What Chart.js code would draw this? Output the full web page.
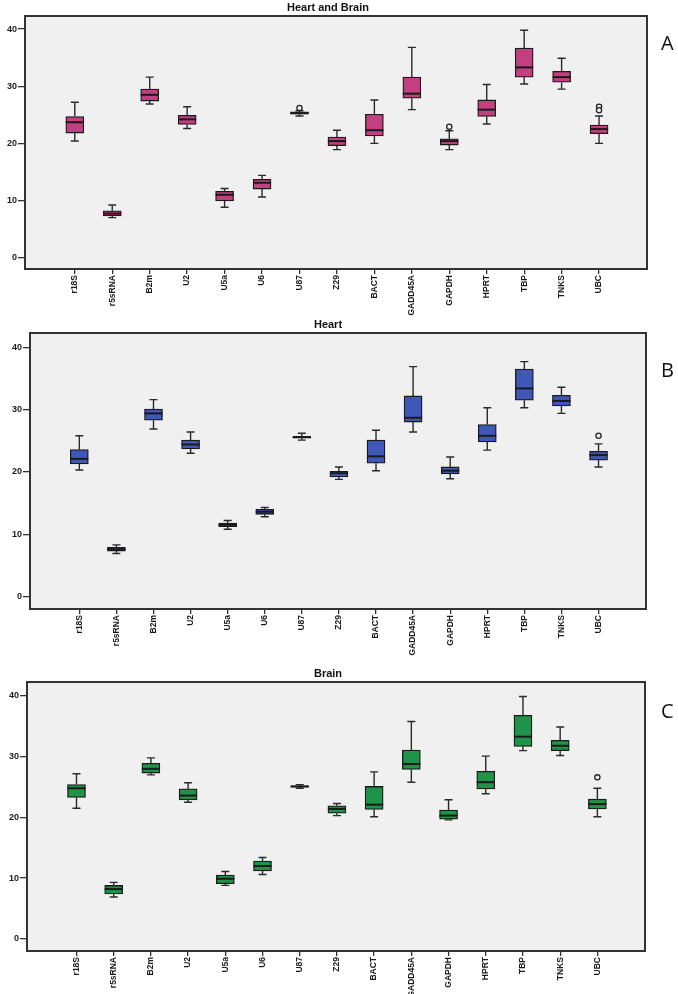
<!DOCTYPE html>
<html>
<head>
<meta charset="utf-8">
<script src="https://cdn.jsdelivr.net/npm/chart.js@4.4.0/dist/chart.umd.min.js"></script>
<style>
  body { margin: 0; background: #fff; width: 678px; height: 994px; position: relative; overflow: hidden; }
  .panel { position: absolute; left: 0; width: 678px; }
  .letter { position: absolute; left: 661px; font-family: "Open Sans", "Liberation Sans", sans-serif; font-size: 20px; color: #111; }
</style>
</head>
<body>
<div class="panel" style="top:0;height:320px"><canvas id="chartA"></canvas></div>
<div class="panel" style="top:317px;height:340px"><canvas id="chartB"></canvas></div>
<div class="panel" style="top:666px;height:328px"><canvas id="chartC"></canvas></div>
<div class="letter" style="top:29px">A</div>
<div class="letter" style="top:356px">B</div>
<div class="letter" style="top:697px">C</div>
<script>
var genes = ["r18S", "r5sRNA", "B2m", "U2", "U5a", "U6", "U87", "Z29", "BACT", "GADD45A", "GAPDH", "HPRT", "TBP", "TNKS", "UBC"];
var yTicks = [0, 10, 20, 30, 40];

// A - Heart and Brain
var aMin = [20.4, 7.0, 26.9, 22.6, 8.8, 10.6, 24.8, 18.9, 20.0, 25.9, 18.9, 23.4, 30.4, 29.5, 20.0];
var aQ1  = [21.8, 7.3, 27.4, 23.3, 9.9, 12.0, 25.1, 19.6, 21.3, 27.9, 19.7, 24.7, 31.6, 30.7, 21.7];
var aMed = [23.7, 7.7, 28.5, 24.2, 11.0, 13.1, 25.3, 20.4, 22.3, 28.7, 20.4, 25.9, 33.3, 31.6, 22.5];
var aQ3  = [24.7, 8.2, 29.5, 24.9, 11.6, 13.7, 25.5, 21.1, 25.1, 31.6, 20.8, 27.6, 36.7, 32.6, 23.2];
var aMax = [27.2, 9.2, 31.6, 26.4, 12.1, 14.4, 25.7, 22.3, 27.6, 36.8, 22.2, 30.3, 39.8, 34.9, 24.8];
var aOut = [[6, 26.2], [10, 22.9], [14, 26.4], [14, 25.8]];

// B - Heart
var bMin = [20.3, 6.9, 26.9, 23.0, 10.8, 12.8, 25.1, 18.8, 20.2, 26.4, 18.9, 23.5, 30.3, 29.4, 20.8];
var bQ1  = [21.3, 7.3, 28.3, 23.7, 11.2, 13.2, 25.4, 19.2, 21.4, 28.0, 19.7, 24.8, 31.5, 30.6, 21.9];
var bMed = [22.1, 7.6, 29.4, 24.4, 11.5, 13.6, 25.6, 19.8, 22.5, 28.7, 20.2, 25.8, 33.4, 31.4, 22.7];
var bQ3  = [23.6, 7.9, 30.1, 25.1, 11.8, 14.0, 25.7, 20.1, 25.1, 32.2, 20.8, 27.6, 36.5, 32.3, 23.3];
var bMax = [25.8, 8.3, 31.6, 26.4, 12.2, 14.3, 26.2, 20.8, 26.7, 36.9, 22.4, 30.3, 37.7, 33.6, 24.5];
var bOut = [[14, 25.8]];

// C - Brain
var cMin = [21.5, 6.9, 27.0, 22.5, 8.8, 10.6, 24.8, 20.3, 20.1, 25.8, 19.6, 23.9, 31.0, 30.2, 20.1];
var cQ1  = [23.3, 7.4, 27.3, 22.9, 9.1, 11.2, 25.0, 20.7, 21.3, 27.9, 19.7, 24.7, 31.7, 31.0, 21.4];
var cMed = [24.8, 8.2, 28.0, 23.6, 9.9, 12.0, 25.1, 21.4, 22.1, 28.8, 20.3, 25.8, 33.3, 31.8, 22.2];
var cQ3  = [25.4, 8.8, 28.9, 24.7, 10.5, 12.8, 25.2, 21.9, 25.1, 31.1, 21.2, 27.6, 36.8, 32.7, 23.0];
var cMax = [27.2, 9.3, 29.8, 25.7, 11.1, 13.4, 25.4, 22.3, 27.5, 35.8, 22.9, 30.1, 39.9, 34.9, 24.8];
var cOut = [[14, 26.6]];

var boxExtras = {
  id: "boxExtras",
  beforeDraw: function (chart) {
    var a = chart.chartArea, ctx = chart.ctx;
    ctx.save();
    ctx.fillStyle = "#f0f0f0";
    ctx.fillRect(a.left, a.top, a.right - a.left, a.bottom - a.top);
    ctx.restore();
  },
  beforeDatasetsDraw: function (chart) {
    var o = chart.options.plugins.boxExtras;
    var x = chart.scales.x, y = chart.scales.y, ctx = chart.ctx;
    ctx.save();
    ctx.strokeStyle = "#2a2a2a";
    ctx.lineWidth = 1.4;
    for (var i = 0; i < o.min.length; i++) {
      var px = x.getPixelForValue(i);
      ctx.beginPath();
      ctx.moveTo(px, y.getPixelForValue(o.q3[i]));
      ctx.lineTo(px, y.getPixelForValue(o.max[i]));
      ctx.moveTo(px - 4, y.getPixelForValue(o.max[i]));
      ctx.lineTo(px + 4, y.getPixelForValue(o.max[i]));
      ctx.moveTo(px, y.getPixelForValue(o.q1[i]));
      ctx.lineTo(px, y.getPixelForValue(o.min[i]));
      ctx.moveTo(px - 4, y.getPixelForValue(o.min[i]));
      ctx.lineTo(px + 4, y.getPixelForValue(o.min[i]));
      ctx.stroke();
    }
    ctx.restore();
  },
  afterDatasetsDraw: function (chart) {
    var o = chart.options.plugins.boxExtras;
    var x = chart.scales.x, y = chart.scales.y, ctx = chart.ctx, a = chart.chartArea;
    var bars = chart.getDatasetMeta(0).data;
    ctx.save();
    ctx.strokeStyle = "#1a1a1a";
    ctx.lineWidth = 2;
    for (var i = 0; i < o.med.length; i++) {
      var px = x.getPixelForValue(i), w = bars[i].width / 2;
      var py = y.getPixelForValue(o.med[i]);
      ctx.beginPath();
      ctx.moveTo(px - w, py);
      ctx.lineTo(px + w, py);
      ctx.stroke();
    }
    // plot frame
    ctx.strokeStyle = "#333";
    ctx.lineWidth = 2;
    ctx.strokeRect(a.left, a.top, a.right - a.left, a.bottom - a.top);
    // title
    ctx.fillStyle = "#111";
    ctx.font = "bold 11px 'Liberation Sans', Arial, sans-serif";
    ctx.textAlign = "center";
    ctx.textBaseline = "bottom";
    ctx.fillText(o.title, 328, a.top - 3);
    ctx.restore();
  }
};

function makeBox(id, title, color, mins, q1s, meds, q3s, maxs, outs, leftW, rightPad, bottomH) {
  var boxes = genes.map(function (g, i) { return { x: i, y: [q1s[i], q3s[i]] }; });
  var outPts = outs.map(function (p) { return { x: p[0], y: p[1] }; });
  return new Chart(document.getElementById(id).getContext("2d"), {
    type: "bar",
    data: {
      datasets: [
        {
          label: title,
          data: boxes,
          backgroundColor: color,
          borderColor: "#1a1a1a",
          borderWidth: 1.3,
          borderSkipped: false,
          barThickness: 18
        },
        {
          type: "scatter",
          label: "outliers",
          data: outPts,
          pointRadius: 2.6,
          pointBorderWidth: 1.3,
          pointBorderColor: "#222",
          pointBackgroundColor: "#f0f0f0"
        }
      ]
    },
    options: {
      responsive: true,
      maintainAspectRatio: false,
      animation: false,
      layout: { padding: { top: 16, right: rightPad, left: 0, bottom: 0 } },
      plugins: {
        legend: { display: false },
        tooltip: { enabled: false },
        boxExtras: { title: title, min: mins, q1: q1s, med: meds, q3: q3s, max: maxs }
      },
      scales: {
        x: {
          type: "linear",
          offset: false,
          min: -1.33,
          max: 15.28,
          afterBuildTicks: function (s) { s.ticks = genes.map(function (g, i) { return { value: i }; }); },
          afterFit: function (s) { s.height = bottomH; },
          grid: { offset: false, drawOnChartArea: false, drawTicks: true, tickLength: 5, color: "#333", lineWidth: 1.3 },
          border: { display: false },
          ticks: {
            autoSkip: false,
            minRotation: 90,
            maxRotation: 90,
            padding: 1,
            color: "#1a1a1a",
            font: { family: "'Liberation Sans', Arial", size: 8.5, weight: "bold" },
            callback: function (v) { return genes[v]; }
          }
        },
        y: {
          min: -2,
          max: 42.3,
          afterBuildTicks: function (s) { s.ticks = yTicks.map(function (v) { return { value: v }; }); },
          afterFit: function (s) { s.width = leftW; },
          grid: { drawOnChartArea: false, drawTicks: true, tickLength: 7, color: "#333", lineWidth: 1.3 },
          border: { display: false },
          ticks: {
            padding: 1,
            color: "#1a1a1a",
            font: { family: "'Liberation Sans', Arial", size: 9, weight: "bold" }
          }
        }
      }
    },
    plugins: [boxExtras]
  });
}

makeBox("chartA", "Heart and Brain", "#c2407f", aMin, aQ1, aMed, aQ3, aMax, aOut, 25, 31, 51);
makeBox("chartB", "Heart", "#3f58b8", bMin, bQ1, bMed, bQ3, bMax, bOut, 30, 32, 48);
makeBox("chartC", "Brain", "#1f9448", cMin, cQ1, cMed, cQ3, cMax, cOut, 27, 33, 43);
</script>
</body>
</html>
